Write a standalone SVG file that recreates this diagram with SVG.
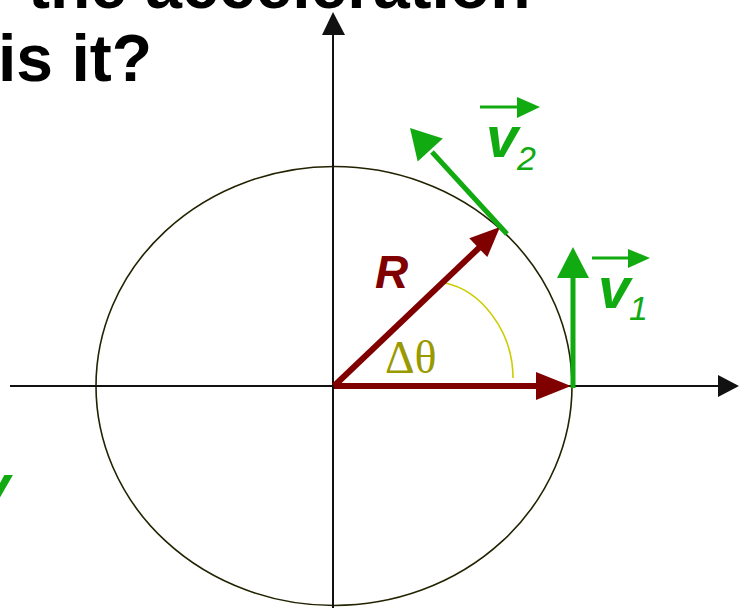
<svg xmlns="http://www.w3.org/2000/svg" width="739" height="608" viewBox="0 0 739 608">
<style>
.title{font-family:"Liberation Sans",Arial,sans-serif;font-weight:bold;font-size:66px;fill:#000}
.vel{font-family:"Liberation Sans",Arial,sans-serif;font-weight:bold;font-style:italic;fill:#11aa11}
.sub{font-family:"Liberation Sans",Arial,sans-serif;font-style:italic;fill:#11aa11}
.axis{stroke:#111;stroke-width:2;fill:none}
.red{stroke:#800000;stroke-width:6;fill:none}
.green{stroke:#11aa11;stroke-width:5;fill:none}
</style>
<rect width="739" height="608" fill="#fff"/>
<g id="title">
<text class="title" x="28" y="8">the acceleration</text>
<text class="title" x="-2" y="81">is it?</text>
</g>
<g id="circle">
<ellipse cx="334" cy="386" rx="238" ry="219.5" fill="none" stroke="#222200" stroke-width="1.6"/>
</g>
<g id="axes">
<line class="axis" x1="10" y1="386" x2="720" y2="386"/>
<polygon points="718,375 739,386 718,397" fill="#111"/>
<line class="axis" x1="333" y1="608" x2="333" y2="33"/>
<polygon points="322,35 333,12 345,35" fill="#111"/>
</g>
<g id="angle">
<path d="M445,283 C480,290 513,330 513,378" fill="none" stroke="#cccc00" stroke-width="1.6"/>
<text x="385" y="373" font-family="Liberation Serif,serif" font-size="46" fill="#999900">Δθ</text>
</g>
<g id="connectors">
<g id="radius1">
<line class="red" x1="334" y1="386" x2="540" y2="386"/>
<polygon points="536,372 571,386 536,400" fill="#800000"/>
</g>
<g id="radius2">
<line class="red" x1="334" y1="386" x2="482" y2="245"/>
<polygon points="487.3,257.1 500,227 469.3,238.3" fill="#800000"/>
</g>
<g id="v1arrow">
<line class="green" x1="573" y1="388" x2="573" y2="275"/>
<polygon points="557,278 573,247 589,278" fill="#11aa11"/>
</g>
<g id="v2arrow">
<line class="green" x1="507" y1="234" x2="432" y2="152"/>
<polygon points="442.8,138.6 410,128 417.7,161.6" fill="#11aa11"/>
</g>
</g>
<g id="labelR">
<text x="375" y="288" font-family="Liberation Sans,Arial,sans-serif" font-weight="bold" font-style="italic" font-size="46" fill="#800000">R</text>
</g>
<g id="labelV2">
<line x1="480" y1="107" x2="520" y2="107" stroke="#11aa11" stroke-width="3"/>
<polygon points="517,97 540,107 517,118" fill="#11aa11"/>
<text class="vel" x="486" y="157" font-size="58">v</text>
<text class="sub" x="517" y="170" font-size="34">2</text>
</g>
<g id="labelV1">
<line x1="592" y1="258" x2="630" y2="258" stroke="#11aa11" stroke-width="3"/>
<polygon points="628,249 650,258 628,268" fill="#11aa11"/>
<text class="vel" x="598" y="308" font-size="58">v</text>
<text class="sub" x="629" y="320" font-size="34">1</text>
</g>
<g id="partialV">
<text class="vel" x="-22" y="505" font-size="58">v</text>
</g>
</svg>
